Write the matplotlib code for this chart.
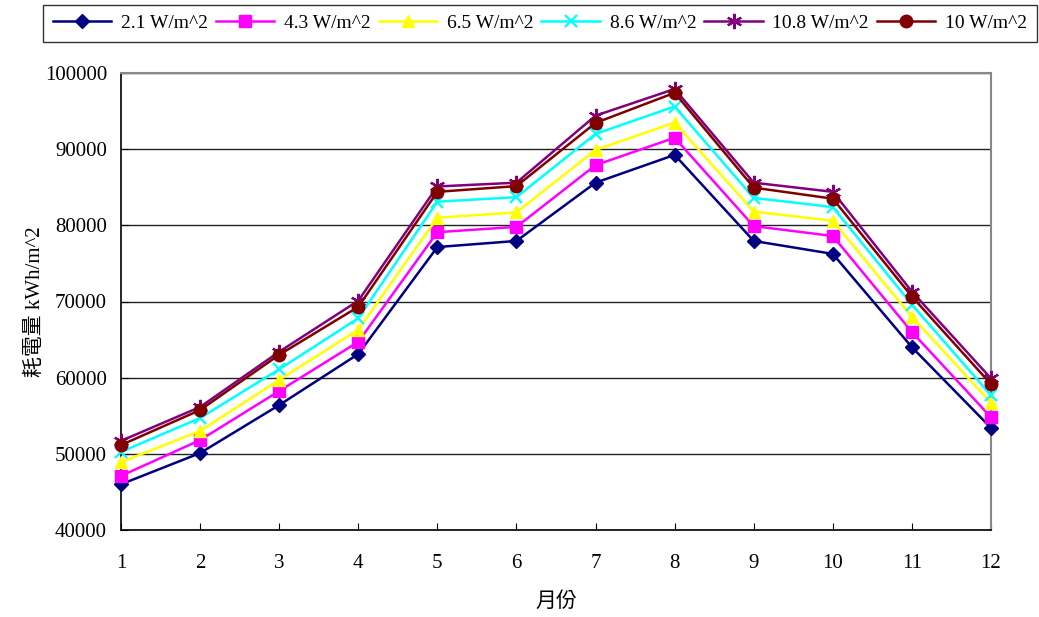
import matplotlib
matplotlib.use("Agg")
import matplotlib.pyplot as plt

months = [1, 2, 3, 4, 5, 6, 7, 8, 9, 10, 11, 12]
labels = ["2.1 W/m^2", "4.3 W/m^2", "6.5 W/m^2", "8.6 W/m^2", "10.8 W/m^2", "10 W/m^2"]
s21 = [46000, 50100, 56400, 63100, 77150, 77950, 85600, 89250, 77950, 76250, 64000, 53400]
s43 = [47100, 51800, 58250, 64700, 79100, 79800, 87900, 91500, 79900, 78600, 66000, 54800]
s65 = [48900, 53000, 59700, 66300, 81000, 81700, 89900, 93500, 81800, 80600, 68000, 56700]
s86 = [50250, 54700, 61100, 67800, 83100, 83700, 92000, 95600, 83600, 82400, 69600, 57700]
s108 = [51700, 56150, 63400, 70100, 85100, 85600, 94400, 97900, 85600, 84400, 71300, 59900]
s10 = [51150, 55750, 63000, 69300, 84400, 85150, 93450, 97400, 84950, 83500, 70650, 59150]

series = [s21, s43, s65, s86, s108, s10]
colors = ["#000080", "#FF00FF", "#FFFF00", "#00FFFF", "#800080", "#800000"]
markers = ["D", "s", "^", "x", (6, 2, 0), "o"]
msizes = [7, 8, 9, 9, 11, 9]

serif = ["Liberation Serif", "Noto Sans CJK TC"]
plt.rcParams['font.family'] = serif

fig = plt.figure(figsize=(10.39, 6.17), dpi=100)
ax = fig.add_axes([121/1039, 87/617, 870/1039, 457/617])

handles = []
for vals, c, m, ms, lab in zip(series, colors, markers, msizes, labels):
    kw = dict(color=c, lw=1.8, marker=m, markersize=ms, markerfacecolor=c,
              markeredgecolor=c, clip_on=False, zorder=3, label=lab)
    if m in ("x",) or isinstance(m, tuple):
        kw["markeredgewidth"] = 1.6
    h, = ax.plot(months, vals, **kw)
    handles.append(h)

ax.set_xlim(1, 12)
ax.set_ylim(40000, 100000)
ax.set_xticks(months)
ax.set_yticks(range(40000, 100001, 10000))
ax.yaxis.grid(True, color="#222222", lw=1.0)
ax.set_axisbelow(True)
for sp in ["top", "right"]:
    ax.spines[sp].set_color("#888888")
    ax.spines[sp].set_linewidth(1.5)
for sp in ["left", "bottom"]:
    ax.spines[sp].set_color("black")
    ax.spines[sp].set_linewidth(1.2)
ax.tick_params(axis="both", direction="in", length=5, labelsize=15)
ax.tick_params(axis="x", pad=17)
ax.tick_params(axis="y", pad=10)

ax.set_xlabel("月份", fontsize=15, labelpad=14)
ax.set_ylabel("耗電量 kWh/m^2", fontsize=15)
ax.yaxis.set_label_coords(-0.087, 0.5)

leg = fig.legend(handles=handles, loc="lower left", ncol=6, mode="expand",
                 bbox_to_anchor=(43/1039, 1-42/617, 994/1039, 39/617),
                 fontsize=14, frameon=True, fancybox=False, borderaxespad=0,
                 handlelength=3.0, handletextpad=0.5, columnspacing=0.8,
                 borderpad=0.5)
leg.get_frame().set_edgecolor("black")
leg.get_frame().set_linewidth(1.0)

fig.savefig("out.png", dpi=100)
